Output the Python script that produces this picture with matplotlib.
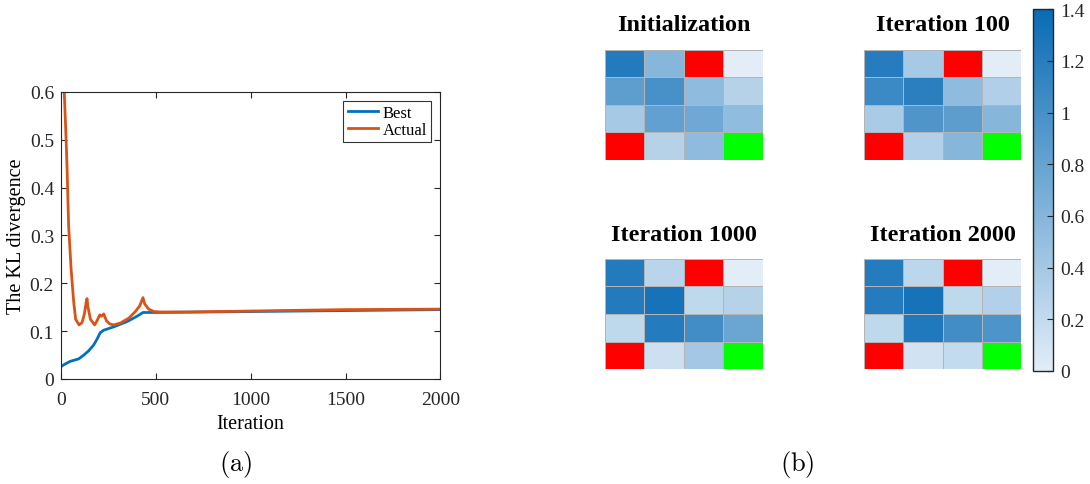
import matplotlib
matplotlib.use("Agg")
import matplotlib.pyplot as plt
from matplotlib.colors import LinearSegmentedColormap, ListedColormap
import numpy as np

plt.rcParams['font.family'] = ['Liberation Serif', 'DejaVu Serif']
plt.rcParams['mathtext.fontset'] = 'cm'

# KL divergence over the iterations
it_actual = [0, 8, 17, 26, 32, 40, 53, 67, 77, 95, 111, 123, 134, 137, 142, 155, 177,
             190, 204, 213, 225, 239, 257, 278, 313, 357, 392, 415, 432, 441, 462, 489,
             524, 664, 998, 1499, 2000]
kl_actual = [0.80, 0.68, 0.60, 0.508, 0.438, 0.32, 0.23, 0.16, 0.125, 0.113, 0.118,
             0.136, 0.164, 0.168, 0.15, 0.125, 0.113, 0.122, 0.134, 0.131, 0.136,
             0.122, 0.115, 0.113, 0.117, 0.127, 0.141, 0.153, 0.170, 0.157, 0.146,
             0.141, 0.140, 0.140, 0.142, 0.145, 0.146]

it_best = [0, 20, 49, 93, 120, 146, 172, 190, 207, 225, 278, 348, 400, 432, 500, 1000,
           1500, 2000]
kl_best = [0.026, 0.031, 0.037, 0.042, 0.050, 0.059, 0.071, 0.0835, 0.097, 0.102,
           0.109, 0.120, 0.131, 0.139, 0.139, 0.141, 0.143, 0.145]

# 4x4 grid values per snapshot (row 0 on top), nan = special cell
panel_titles = ['Initialization', 'Iteration 100', 'Iteration 1000', 'Iteration 2000']
nan = np.nan
grid_init = [[1.23, 0.59, nan, 0.0],
             [0.85, 1.00, 0.54, 0.29],
             [0.39, 0.83, 0.74, 0.53],
             [nan, 0.29, 0.54, nan]]
grid_100 = [[1.21, 0.39, nan, 0.0],
            [1.07, 1.18, 0.54, 0.32],
            [0.37, 0.95, 0.86, 0.59],
            [nan, 0.31, 0.59, nan]]
grid_1000 = [[1.23, 0.26, nan, 0.0],
             [1.23, 1.31, 0.23, 0.29],
             [0.23, 1.22, 1.03, 0.77],
             [nan, 0.14, 0.41, nan]]
grid_2000 = [[1.22, 0.25, nan, 0.0],
             [1.22, 1.31, 0.23, 0.31],
             [0.23, 1.25, 1.03, 0.96],
             [nan, 0.11, 0.20, nan]]
# 1 = red (obstacle), 2 = green (goal)
special = [[0, 0, 1, 0],
           [0, 0, 0, 0],
           [0, 0, 0, 0],
           [1, 0, 0, 2]]

blues = LinearSegmentedColormap.from_list('blues', [(0.886, 0.929, 0.969), (0.035, 0.420, 0.710)])
marks = ListedColormap([(1, 1, 1, 0), (1, 0, 0, 1), (0, 1, 0, 1)])

fig = plt.figure(figsize=(10.9, 4.85), dpi=100)

ax = fig.add_axes([0.056, 0.2165, 0.348, 0.592])
ax.plot(it_best, kl_best, color='#0072BD', lw=2, label='Best')
ax.plot(it_actual, kl_actual, color='#D95319', lw=2, label='Actual')
ax.set_xlim(0, 2000)
ax.set_ylim(0, 0.6)
ax.set_xticks([0, 500, 1000, 1500, 2000])
ax.set_yticks([0, 0.1, 0.2, 0.3, 0.4, 0.5, 0.6])
ax.set_yticklabels(['0', '0.1', '0.2', '0.3', '0.4', '0.5', '0.6'])
ax.tick_params(direction='in', top=True, right=True, labelsize=14, colors='#262626', length=4)
ax.tick_params(axis='x', pad=8.5)
ax.tick_params(axis='y', pad=5)
for s in ax.spines.values():
    s.set_color('#262626')
    s.set_linewidth(0.8)
ax.set_xlabel('Iteration', fontsize=14.5, labelpad=4.5)
ax.set_ylabel('The KL divergence', fontsize=14.5, labelpad=3)
leg = ax.legend(loc='upper right', fontsize=12, frameon=True, fancybox=False,
                handlelength=1.8, borderpad=0.25, labelspacing=0.05, handletextpad=0.3,
                borderaxespad=0.55)
leg.get_frame().set_edgecolor('black')
leg.get_frame().set_linewidth(0.8)

grids = [grid_init, grid_100, grid_1000, grid_2000]
boxes = [[0.555, 0.668, 0.145, 0.227], [0.7927, 0.668, 0.144, 0.227],
         [0.555, 0.237, 0.145, 0.227], [0.7927, 0.237, 0.144, 0.227]]
for g, title, box in zip(grids, panel_titles, boxes):
    hx = fig.add_axes(box)
    vals = np.array(g, dtype=float)
    mesh = hx.pcolormesh(vals, cmap=blues, vmin=0, vmax=1.4, edgecolors='#b4b4b4', linewidth=0.6)
    hx.pcolormesh(np.array(special), cmap=marks, vmin=0, vmax=2, edgecolors='#b4b4b4', linewidth=0.6)
    hx.set_xlim(0, 4)
    hx.set_ylim(4, 0)
    hx.axis('off')
    hx.set_title(title, fontsize=17.5, fontweight='bold', pad=14)

cax = fig.add_axes([0.9477, 0.233, 0.0183, 0.746])
cb = fig.colorbar(mesh, cax=cax, ticks=[0, 0.2, 0.4, 0.6, 0.8, 1, 1.2, 1.4])
cb.ax.set_yticklabels(['0', '0.2', '0.4', '0.6', '0.8', '1', '1.2', '1.4'])
cb.ax.tick_params(labelsize=14, direction='in', length=4, colors='#262626', pad=5)
cb.outline.set_edgecolor('#262626')
cb.outline.set_linewidth(1.0)

fig.text(0.2165, 0.043, r'$\mathrm{(a)}$', fontsize=19, ha='center', va='center')
fig.text(0.731, 0.043, r'$\mathrm{(b)}$', fontsize=19, ha='center', va='center')

fig.savefig('out.png', dpi=100)
